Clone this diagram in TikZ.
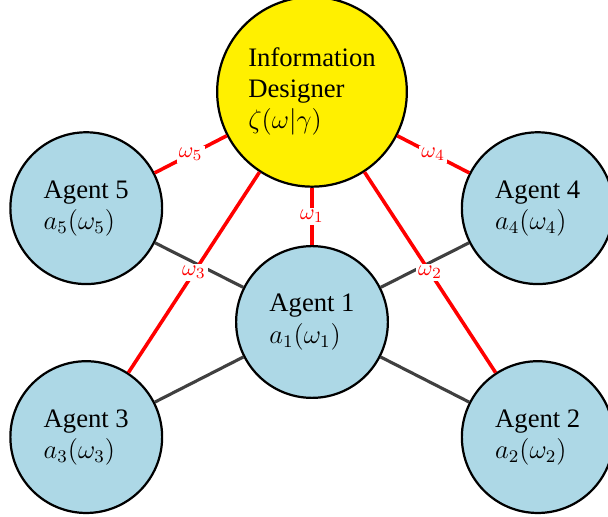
\documentclass[tikz,border=0pt]{standalone}
\usepackage[no-math]{fontspec}
\setmainfont{Liberation Serif}
\definecolor{agentblue}{RGB}{173,216,230}
\definecolor{designeryellow}{RGB}{255,240,0}

\begin{document}
\begin{tikzpicture}[
        agent/.style={circle, draw, line width=1pt, fill=agentblue, minimum size=2.4cm, align=left, font=\large},
        designer/.style={circle, draw, line width=1pt, fill=designeryellow, minimum size=3cm, align=left, font=\large},
        link/.style={black!75, line width=1.4pt},
        info/.style={red, line width=1.6pt},
        sig/.style={fill=white, text=red, inner sep=1pt, font=\normalsize}
      ]
        \clip (-4.934,-3.068) rectangle (4.681,5.092);
        \node[designer] (designer) at (0,3.64) {Information\\Designer\\$\zeta(\omega|\gamma)$};
        \node[agent] (agent1) at (0,0) {Agent 1\\$a_1(\omega_1)$};
        \node[agent] (agent2) at (3.57,-1.82) {Agent 2\\$a_2(\omega_2)$};
        \node[agent] (agent3) at (-3.57,-1.82) {Agent 3\\$a_3(\omega_3)$};
        \node[agent] (agent4) at (3.57,1.8) {Agent 4\\$a_4(\omega_4)$};
        \node[agent] (agent5) at (-3.57,1.8) {Agent 5\\$a_5(\omega_5)$};
        % agents talk to agent 1
        \foreach \i in {2,...,5}
          \draw[link] (agent1) -- (agent\i);
        % signals from the designer
        \foreach \i in {1,...,5}
          \draw[info] (designer) -- node[sig] {$\omega_{\i}$} (agent\i);
      \end{tikzpicture}
\end{document}
